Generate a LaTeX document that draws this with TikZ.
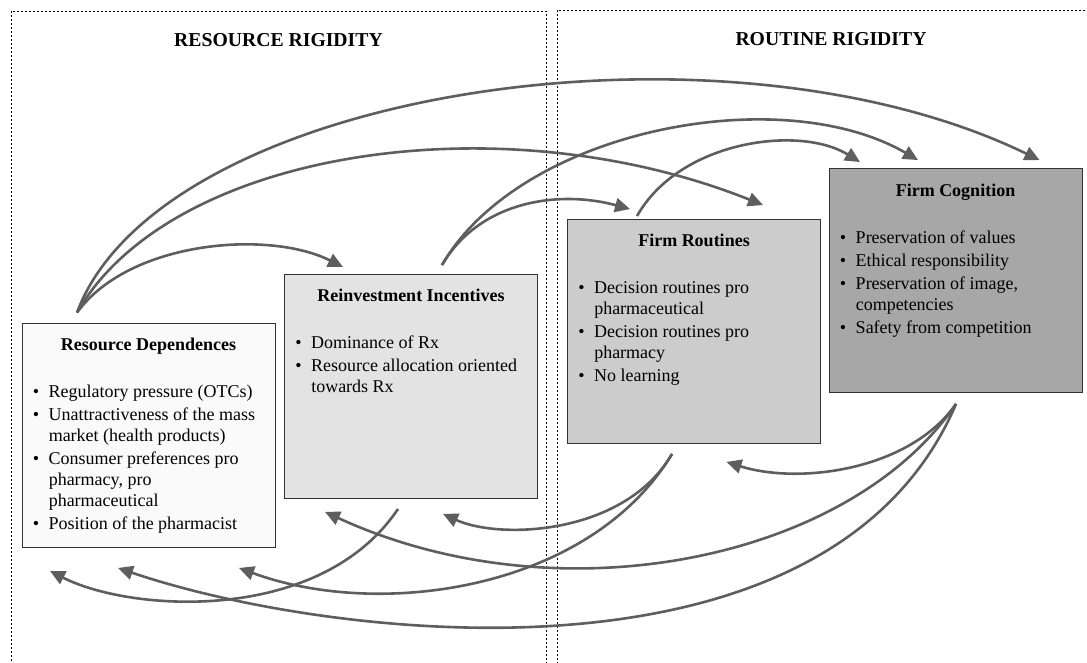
\documentclass[tikz,border=0pt]{standalone}
\usepackage{fontspec}
\setmainfont{Liberation Serif}
\usetikzlibrary{arrows.meta,calc}

\definecolor{linkgray}{HTML}{5E5E5E}
\definecolor{boxedge}{HTML}{333333}
\definecolor{fillA}{HTML}{FAFAFA}
\definecolor{fillB}{HTML}{E3E3E3}
\definecolor{fillC}{HTML}{CCCCCC}
\definecolor{fillD}{HTML}{A7A7A7}

% one bullet point with a hanging indent
\newcommand{\bul}[1]{\par\noindent\hangindent=16pt\hangafter=1\makebox[16pt][l]{\textbullet}#1}
\newcommand{\bullist}[1]{\parbox[t]{250pt}{\raggedright\fontsize{18pt}{20.8pt}\selectfont\setlength{\parskip}{2.5pt}#1}}

\tikzset{
  panel/.style={draw=black, line width=0.9pt, dash pattern=on 2.4pt off 1.6pt},
  heading/.style={font=\fontsize{19.7pt}{22pt}\selectfont\bfseries, anchor=base, inner sep=0pt},
  factorbox/.style={draw=boxedge, line width=0.9pt, minimum width=253pt, minimum height=224pt, inner sep=0pt},
  boxtitle/.style={font=\fontsize{18pt}{21pt}\selectfont\bfseries, anchor=base, inner sep=0pt},
  boxlist/.style={anchor=base west, inner sep=0pt},
  conn/.style={draw=linkgray, line width=2.6pt, -{Triangle[length=15pt,width=14pt]}}
}

\begin{document}
\begin{tikzpicture}[x=1pt, y=-1pt]
\useasboundingbox (0,0) rectangle (1087,663);
\clip (0,0) rectangle (1087,663);

% the two framed areas
\draw[panel] (11,11) rectangle (546,670);
\draw[panel] (557,10) rectangle (1105,670);
\node[heading] (hres) at (278.5,47) {RESOURCE RIGIDITY};
\node[heading] (hrou) at (831,46) {ROUTINE RIGIDITY};

% the four factor boxes
\node[factorbox, fill=fillA] (rd) at (148.5,435) {};
\node[factorbox, fill=fillB] (ri) at (411,386) {};
\node[factorbox, fill=fillC] (fr) at (694,331) {};
\node[factorbox, fill=fillD] (fc) at (955.5,280.5) {};

\node[boxtitle] (rdt) at ($(rd.north)+(0,28)$) {Resource Dependences};
\node[boxtitle] (rit) at ($(ri.north)+(0,28)$) {Reinvestment Incentives};
\node[boxtitle] (frt) at ($(fr.north)+(0,28)$) {Firm Routines};
\node[boxtitle] (fct) at ($(fc.north)+(0,28)$) {Firm Cognition};

\node[boxlist] (rdl) at ($(rd.north west)+(11,75)$) {\bullist{%
  \bul{Regulatory pressure (OTCs)}%
  \bul{Unattractiveness of the mass\newline market (health products)}%
  \bul{Consumer preferences pro\newline pharmacy, pro\newline pharmaceutical}%
  \bul{Position of the pharmacist}}};
\node[boxlist] (ril) at ($(ri.north west)+(11,75)$) {\bullist{%
  \bul{Dominance of Rx}%
  \bul{Resource allocation oriented\newline towards Rx}}};
\node[boxlist] (frl) at ($(fr.north west)+(11,75)$) {\bullist{%
  \bul{Decision routines pro\newline pharmaceutical}%
  \bul{Decision routines pro\newline pharmacy}%
  \bul{No learning}}};
\node[boxlist] (fcl) at ($(fc.north west)+(11,75)$) {\bullist{%
  \bul{Preservation of values}%
  \bul{Ethical responsibility}%
  \bul{Preservation of image,\newline competencies}%
  \bul{Safety from competition}}};

% start points of the links
\coordinate (rdOut) at ($(rd.north)+(-71.5,-10)$);
\coordinate (riOut) at ($(ri.north)+(31,-8.5)$);
\coordinate (frOut) at ($(fr.north)+(-57,-2.5)$);
\coordinate (frDown) at ($(fr.south)+(-22,10.5)$);
\coordinate (fcDown) at ($(fc.south)+(0.5,11)$);
\coordinate (riDown) at ($(ri.south)+(-13,10.5)$);

% end points of the links
\coordinate (riIn) at ($(ri.north)+(-68,-6.5)$);
\coordinate (frInA) at ($(fr.north)+(-64,-9.5)$);
\coordinate (frInB) at ($(fr.north)+(69,-13.5)$);
\coordinate (fcInA) at ($(fc.north)+(-95.5,-6)$);
\coordinate (fcInB) at ($(fc.north)+(-37.5,-8)$);
\coordinate (fcInC) at ($(fc.north)+(84,-8)$);
\coordinate (rdBackA) at ($(rd.south)+(-98.5,23.5)$);
\coordinate (rdBackB) at ($(rd.south)+(-30.5,20.5)$);
\coordinate (rdBackC) at ($(rd.south)+(90.5,20.5)$);
\coordinate (riBackA) at ($(ri.south)+(-86,13.5)$);
\coordinate (riBackB) at ($(ri.south)+(32,15.5)$);
\coordinate (frBack) at ($(fr.south)+(32.5,18.5)$);

% forward links over the top
\draw[conn] (rdOut) .. controls (160,90) and (720,5) .. (fcInC);
\draw[conn] (rdOut) .. controls (170,150) and (500,100) .. (frInB);
\draw[conn] (rdOut) .. controls (130,240) and (270,230) .. (riIn);
\draw[conn] (riOut) .. controls (520,130) and (780,80) .. (fcInB);
\draw[conn] (riOut) .. controls (480,200) and (560,190) .. (frInA);
\draw[conn] (frOut) .. controls (680,140) and (800,125) .. (fcInA);

% feedback links underneath
\draw[conn] (riDown) .. controls (320,625) and (130,612) .. (rdBackA);
\draw[conn] (frDown) .. controls (590,590) and (380,620) .. (rdBackC);
\draw[conn] (frDown) .. controls (625,535) and (500,540) .. (riBackB);
\draw[conn] (fcDown) .. controls (850,560) and (560,620) .. (riBackA);
\draw[conn] (fcDown) .. controls (830,700) and (330,640) .. (rdBackB);
\draw[conn] (fcDown) .. controls (910,470) and (800,485) .. (frBack);
\end{tikzpicture}
\end{document}
